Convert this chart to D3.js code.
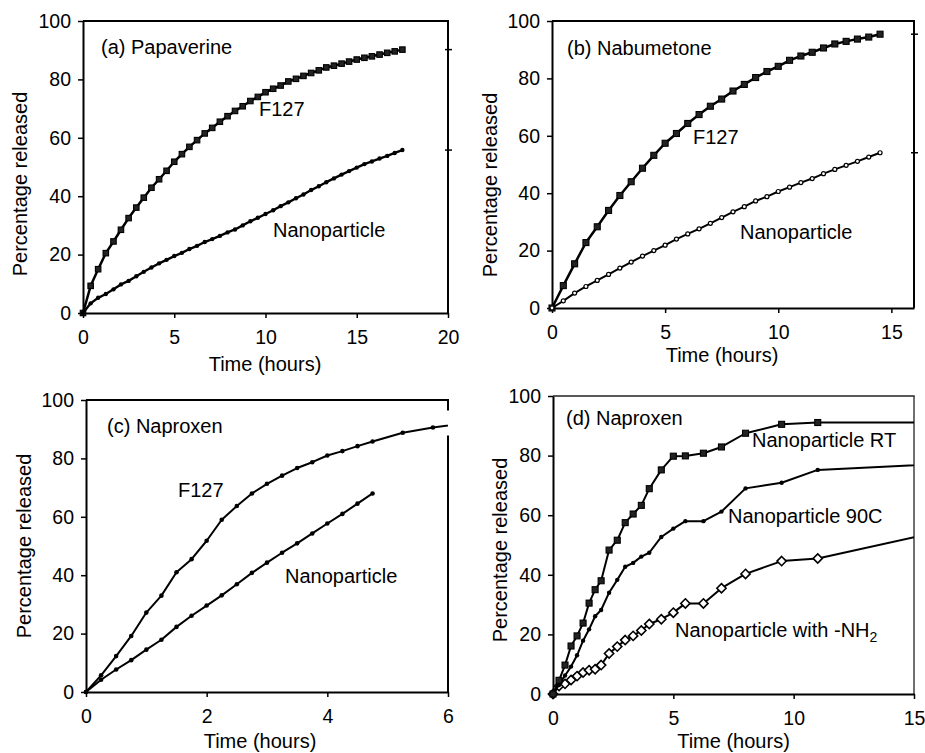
<!DOCTYPE html>
<html><head><meta charset="utf-8">
<script src="https://cdn.jsdelivr.net/npm/d3@7"></script>
<style>
body{margin:0;background:#fff;}
svg{display:block;}
</style></head><body>
<svg id="c" width="925" height="753"></svg>
<script>
// ---------- data ----------
const yTicks = [0, 20, 40, 60, 80, 100];
const aXTicks = [0, 5, 10, 15, 20];
const bXTicks = [0, 5, 10, 15];
const cXTicks = [0, 2, 4, 6];
const dXTicks = [0, 5, 10, 15];

// (a) Papaverine
const aTime = [0,0.42,0.83,1.25,1.67,2.08,2.5,2.92,3.33,3.75,4.17,4.58,5,5.42,5.83,6.25,6.67,7.08,7.5,7.92,8.33,8.75,9.17,9.58,10,10.42,10.83,11.25,11.67,12.08,12.5,12.92,13.33,13.75,14.17,14.58,15,15.42,15.83,16.25,16.67,17.08,17.5];
const aF127 = [0,9.3,15.0,20.5,24.5,28.5,32.5,36.1,39.5,42.9,45.8,48.7,51.8,54.4,56.9,59.2,61.5,63.4,65.5,67.4,69.2,70.8,72.6,74.0,75.6,76.8,77.9,79.3,80.2,81.2,82.2,83.1,84.1,84.7,85.4,86.1,86.8,87.4,87.9,88.5,89.1,89.6,90.2];
const aNano = [0,3.3,5.2,6.5,8.1,9.8,11.0,12.6,14.1,15.6,17.0,18.2,19.5,20.6,21.9,23.0,24.3,25.3,26.4,27.6,28.6,30.0,31.4,32.6,33.9,35.2,36.6,37.9,39.3,40.6,42.1,43.4,44.8,46.1,47.4,48.6,49.8,51.0,51.9,52.9,53.8,54.8,55.8];

// (b) Nabumetone
const bTime = [0,0.5,1,1.5,2,2.5,3,3.5,4,4.5,5,5.5,6,6.5,7,7.5,8,8.5,9,9.5,10,10.5,11,11.5,12,12.5,13,13.5,14,14.5];
const bF127 = [0,7.8,15.4,22.8,28.3,34.0,39.2,44.0,48.7,53.2,57.4,60.8,64.3,67.4,70.3,72.8,75.6,77.9,80.3,82.4,84.2,86.3,87.8,89.1,90.6,92.0,92.9,93.7,94.4,95.4];
const bNano = [0,2.5,5.2,7.5,9.6,11.7,13.9,16.0,18.1,20.0,21.9,24.0,25.8,27.6,29.5,31.5,33.5,35.3,37.3,38.8,40.6,42.1,43.7,45.1,46.8,48.3,49.7,51.1,52.6,54.1];

// (c) Naproxen
const cTimeF127 = [0,0.25,0.5,0.75,1,1.25,1.5,1.75,2,2.25,2.5,2.75,3,3.25,3.5,3.75,4,4.25,4.5,4.75,5.25,5.75,6.25];
const cF127 = [0,5.7,12.3,19.2,27.2,33.0,41.0,45.5,51.8,59.0,63.7,68.0,71.3,74.1,76.7,78.7,81.0,82.5,84.2,85.8,88.8,90.6,92.0];
const cTimeNano = [0,0.25,0.5,0.75,1,1.25,1.5,1.75,2,2.25,2.5,2.75,3,3.25,3.5,3.75,4,4.25,4.5,4.75];
const cNano = [0,4.2,7.7,10.9,14.5,17.9,22.3,26.1,29.6,33.1,36.9,40.8,44.3,47.7,50.9,54.3,57.7,61.0,64.5,68.0];

// (d) Naproxen, three nanoparticle types
const dTime = [0,0.25,0.5,0.75,1,1.25,1.5,1.75,2,2.33,2.67,3,3.33,3.67,4,4.5,5,5.5,6.25,7,8,9.5,11,24];
const dRT   = [0,4.6,9.7,16.1,19.5,23.8,30.5,35.0,38.0,48.3,51.6,57.5,60.4,63.3,68.9,75.2,79.8,79.9,80.8,82.9,87.5,90.5,91.1,91.2];
const d90C  = [0,3.0,6.2,9.2,13.0,17.9,21.7,26.1,28.2,34.0,38.3,42.7,44.0,46.1,47.4,52.7,55.5,58.0,58.0,61.2,69.0,70.9,75.2,80.4];
const dNH2  = [0,2.7,3.4,4.7,6.0,7.2,8.0,8.3,9.7,13.6,15.9,18.1,19.5,21.3,23.5,25.1,27.3,30.4,30.4,35.5,40.3,44.6,45.5,68.6];

// ---------- drawing ----------
const FONT = "Arial, 'Liberation Sans', Helvetica, sans-serif";
const svg = d3.select("#c");
const defs = svg.append("defs");
const fmt = d3.format("d");

function addPanel(c) {
  const x = d3.scaleLinear().domain(c.xDomain).range([c.left, c.right]);
  const y = d3.scaleLinear().domain([0, 100]).range([c.bottom, c.top]);
  const g = svg.append("g");
  const cid = "clip-" + c.key;
  defs.append("clipPath").attr("id", cid).append("rect")
    .attr("x", c.left - 15).attr("y", c.top - 15)
    .attr("width", c.right - c.left + 15).attr("height", c.bottom - c.top + 30);

  // frame (top + right)
  g.append("line").attr("x1", c.left).attr("x2", c.right + c.frameW / 2)
    .attr("y1", c.top).attr("y2", c.top)
    .attr("stroke", c.frameColor).attr("stroke-width", c.frameW);
  const segs = [];
  if (c.gapSeries) {
    const s = c.gapSeries;
    let yv = null;
    for (let i = 1; i < s.t.length; i++) {
      if (s.t[i - 1] <= c.xDomain[1] && s.t[i] >= c.xDomain[1]) {
        const f = (c.xDomain[1] - s.t[i - 1]) / (s.t[i] - s.t[i - 1]);
        yv = y(s.v[i - 1] + f * (s.v[i] - s.v[i - 1]));
      }
    }
    segs.push([c.top, yv - 15], [yv + 10, c.bottom]);
  } else {
    segs.push([c.top, c.bottom]);
  }
  segs.forEach(([y1, y2]) => {
    g.append("line").attr("x1", c.right).attr("x2", c.right)
      .attr("y1", y1).attr("y2", y2)
      .attr("stroke", c.frameColor).attr("stroke-width", c.frameW);
  });

  // axes
  const ya = g.append("g").attr("transform", `translate(${c.left},0)`)
    .call(d3.axisLeft(y).tickValues(yTicks).tickFormat(fmt).tickSize(5).tickSizeOuter(0).tickPadding(7));
  const xa = g.append("g").attr("transform", `translate(0,${c.bottom})`)
    .call(d3.axisBottom(x).tickValues(c.xTicks).tickFormat(fmt).tickSize(5).tickSizeOuter(0).tickPadding(12));
  [ya, xa].forEach(a => {
    a.select(".domain").attr("stroke", "#000").attr("stroke-width", 2);
    a.selectAll(".tick line").attr("stroke", "#000").attr("stroke-width", 1.5);
    a.selectAll(".tick text").attr("font-size", 19.5).attr("fill", "#000")
      .attr("font-family", FONT);
  });

  // axis titles
  g.append("text").attr("x", c.xTitle[0]).attr("y", c.xTitle[1])
    .attr("text-anchor", "middle").attr("font-family", FONT).attr("font-size", 20)
    .text("Time (hours)");
  g.append("text").attr("transform", `translate(${c.yTitle[0]},${c.yTitle[1]}) rotate(-90)`)
    .attr("text-anchor", "middle").attr("font-family", FONT).attr("font-size", 20)
    .text("Percentage released");

  // series
  c.series.forEach(s => {
    const pts = s.t.map((t, i) => [t, s.v[i]]);
    const gg = g.append("g").attr("clip-path", `url(#${cid})`);
    gg.append("path").datum(pts)
      .attr("d", d3.line().x(d => x(d[0])).y(d => y(d[1])))
      .attr("fill", "none").attr("stroke", "#000").attr("stroke-width", s.lw)
      .attr("stroke-linejoin", "round");
    const sel = gg.selectAll(null).data(pts).enter();
    if (s.marker === "square") {
      sel.append("rect").attr("x", d => x(d[0]) - s.size / 2).attr("y", d => y(d[1]) - s.size / 2)
        .attr("width", s.size).attr("height", s.size)
        .attr("fill", s.fill || "#000").attr("stroke", "#000").attr("stroke-width", 1.1);
    } else if (s.marker === "dot") {
      sel.append("circle").attr("cx", d => x(d[0])).attr("cy", d => y(d[1])).attr("r", s.size)
        .attr("fill", "#000");
    } else if (s.marker === "ocircle") {
      sel.append("circle").attr("cx", d => x(d[0])).attr("cy", d => y(d[1])).attr("r", s.size)
        .attr("fill", "#fff").attr("stroke", "#000").attr("stroke-width", 1.2);
    } else if (s.marker === "odiamond") {
      const h = s.size;
      sel.append("path")
        .attr("d", d => `M${x(d[0])},${y(d[1]) - h}L${x(d[0]) + h},${y(d[1])}L${x(d[0])},${y(d[1]) + h}L${x(d[0]) - h},${y(d[1])}Z`)
        .attr("fill", "#fff").attr("stroke", "#000").attr("stroke-width", 1.6);
    }
    if (c.endDash) {
      const last = pts[pts.length - 1];
      g.append("line").attr("x1", c.right - 3).attr("x2", c.right + 4)
        .attr("y1", y(last[1])).attr("y2", y(last[1]))
        .attr("stroke", "#000").attr("stroke-width", 1.5);
    }
  });

  // annotations
  c.labels.forEach(l => {
    const t = g.append("text").attr("x", l.x).attr("y", l.y)
      .attr("font-family", FONT).attr("font-size", 20).attr("fill", "#000");
    t.append("tspan").text(l.text);
    if (l.sub) {
      t.append("tspan").attr("font-size", 14).attr("dy", 5).text(l.sub);
    }
  });
}

addPanel({
  key: "a", left: 83, top: 21, right: 448, bottom: 313, xDomain: [0, 20], xTicks: aXTicks,
  frameW: 2, frameColor: "#000", endDash: true,
  xTitle: [265, 371], yTitle: [27, 184],
  series: [
    { t: aTime, v: aF127, marker: "square", size: 5.5, fill: "#222", lw: 2.5 },
    { t: aTime, v: aNano, marker: "dot", size: 2.2, lw: 2.4 }
  ],
  labels: [
    { text: "(a) Papaverine", x: 101, y: 54 },
    { text: "F127", x: 259, y: 116 },
    { text: "Nanoparticle", x: 273, y: 237 }
  ]
});

addPanel({
  key: "b", left: 552, top: 21, right: 914, bottom: 308, xDomain: [0, 16], xTicks: bXTicks,
  frameW: 2, frameColor: "#000", endDash: true,
  xTitle: [722, 362], yTitle: [497, 185],
  series: [
    { t: bTime, v: bF127, marker: "square", size: 6, fill: "#222", lw: 2.5 },
    { t: bTime, v: bNano, marker: "ocircle", size: 2, lw: 2 }
  ],
  labels: [
    { text: "(b) Nabumetone", x: 567, y: 55 },
    { text: "F127", x: 693, y: 144 },
    { text: "Nanoparticle", x: 740, y: 239 }
  ]
});

addPanel({
  key: "c", left: 86, top: 400, right: 448, bottom: 692, xDomain: [0, 6], xTicks: cXTicks,
  frameW: 2, frameColor: "#000",
  gapSeries: { t: cTimeF127, v: cF127 },
  xTitle: [260, 748], yTitle: [31, 546],
  series: [
    { t: cTimeF127, v: cF127, marker: "dot", size: 2.3, lw: 2 },
    { t: cTimeNano, v: cNano, marker: "dot", size: 2.3, lw: 2 }
  ],
  labels: [
    { text: "(c) Naproxen", x: 107, y: 433 },
    { text: "F127", x: 178, y: 497 },
    { text: "Nanoparticle", x: 285, y: 583 }
  ]
});

addPanel({
  key: "d", left: 553, top: 396, right: 914, bottom: 694, xDomain: [0, 15], xTicks: dXTicks,
  frameW: 1.3, frameColor: "#222",
  xTitle: [733.5, 748], yTitle: [507, 550],
  series: [
    { t: dTime, v: dNH2, marker: "odiamond", size: 4.6, lw: 2 },
    { t: dTime, v: d90C, marker: "dot", size: 2.2, lw: 2 },
    { t: dTime, v: dRT, marker: "square", size: 6, fill: "#222", lw: 2 }
  ],
  labels: [
    { text: "(d) Naproxen", x: 566, y: 425 },
    { text: "Nanoparticle RT", x: 752, y: 447 },
    { text: "Nanoparticle 90C", x: 728, y: 523 },
    { text: "Nanoparticle with -NH", sub: "2", x: 675, y: 637 }
  ]
});
</script>
</body></html>
